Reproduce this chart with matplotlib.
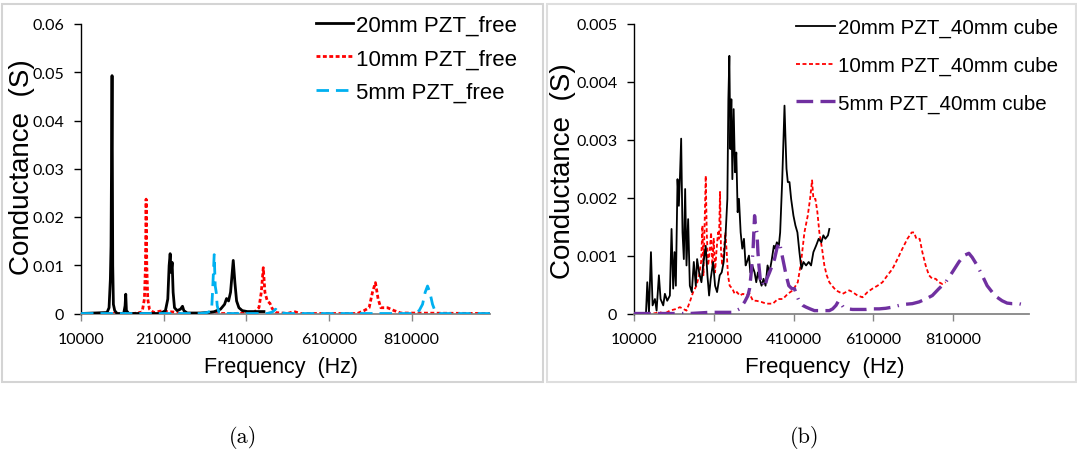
import matplotlib
matplotlib.use('Agg')
import matplotlib.pyplot as plt
from matplotlib.patches import Rectangle

# ---- (a) free PZT patches: frequency (Hz) / conductance (S)
f20_free = [10000, 73000, 77900, 81100, 82700, 85150, 86800, 88400, 91600, 97300,
            113400, 116700, 118300, 119900, 125600, 202300, 214400, 220100, 223300,
            225800, 228200, 230600, 233000, 236300, 242700, 250800, 255700, 258900,
            267000, 299300, 315500, 331600, 347800, 357500, 362300, 367200, 372000,
            378500, 382500, 386600, 392200, 400300, 412400, 452800]
g20_free = [0, 0.0002, 0.0012, 0.0071, 0.014, 0.0493, 0.0099, 0.0019, 0.0006, 0,
            0, 0.0016, 0.004, 0.0006, 0, 0, 0.0006, 0.003, 0.0099,
            0.0124, 0.0085, 0.0106, 0.0044, 0.0012, 0.0006, 0.0009, 0.0015, 0.0006,
            0.0001, 0.0001, 0.0002, 0.00035, 0.0009, 0.0019, 0.0031, 0.0026, 0.0044,
            0.011, 0.0064, 0.0026, 0.0012, 0.0006, 0.0004, 0.0004]

f10_free = [10000, 137700, 157900, 163500, 166000, 167600, 169200, 171600, 175700,
            186200, 202300, 234600, 250800, 380100, 428600, 440700, 446400, 451200,
            455200, 460900, 467400, 473000, 481100, 509400, 525600, 541700, 679100,
            695200, 707400, 715500, 722700, 729200, 735700, 751800, 768000, 784100,
            999900]
g10_free = [0, 0, 0.0003, 0.003, 0.0099, 0.0237, 0.0099, 0.003, 0.0009,
            0.0002, 0.0005, 0.0003, 0, 0, 0.0002, 0.0012, 0.0044, 0.0095,
            0.0044, 0.0026, 0.0021, 0.001, 0.0002, 0, 0.0004, 0, 0,
            0.0006, 0.0012, 0.0044, 0.0064, 0.003, 0.0012, 0.0012, 0.0006, 0.0001,
            0]

f5_free = [10000, 299300, 315500, 326000, 328400, 332400, 334900, 337300, 339700,
           343700, 364000, 461000, 473000, 481100, 489200, 509400, 816500, 828600,
           836700, 843100, 848800, 854400, 860900, 866600, 877100, 999900]
g5_free = [0, 0, 0.0002, 0.0006, 0.0044, 0.0122, 0.0057, 0.0044, 0.0016,
           0.0003, 0, 0, 0.0003, 0.0009, 0.0002, 0, 0, 0.0006,
           0.0019, 0.0044, 0.0057, 0.0044, 0.0019, 0.0006, 0, 0]

# ---- (b) PZT patches on 40 mm cube
f20_cube = [10000, 40000, 43300, 47500, 52500, 56600, 62500, 66600, 72400, 76600,
            83300, 87400, 93300, 99900, 104100, 108200, 111600, 114900, 119100,
            122400, 124900, 128200, 131600, 134900, 138200, 141600, 145700, 149900,
            154900, 159900, 164900, 168200, 173200, 179000, 183200, 189800, 194000,
            198200, 202300, 208200, 213200, 218200, 224800, 229800, 234800, 239800,
            244000, 246500, 249000, 251500, 254000, 256500, 259800, 263200, 266400,
            269800, 273100, 277300, 281400, 285600, 289800, 293100, 298100, 301400,
            306400, 312200, 316400, 320600, 324700, 329700, 334700, 339700, 344700,
            349700, 355500, 360500, 363800, 368000, 373000, 376300, 381300, 384700,
            387200, 389700, 392200, 395500, 399700, 403800, 409600, 414600, 419600,
            424600, 429600, 434600, 441300, 447900, 453800, 459600, 466300, 472900,
            479600, 484600, 489600, 496200, 499600]
g20_cube = [0, 0, 0.00054, 0.00002, 0.00106, 0.00014, 0.00025, 0.00005, 0.00066, 0.00025,
            0.00014, 0.00034, 0.00022, 0.00031, 0.00146, 0.00043, 0.00106, 0.00048, 0.00232,
            0.00186, 0.0023, 0.00302, 0.0014, 0.00094, 0.00215, 0.00083, 0.00163, 0.00048,
            0.00037, 0.00089, 0.00048, 0.00094, 0.00071, 0.00054, 0.00083, 0.00117, 0.00066,
            0.00031, 0.0006, 0.00089, 0.00048, 0.00037, 0.00066, 0.00071, 0.00089, 0.0014,
            0.00198, 0.0037, 0.00445, 0.00284, 0.0037, 0.00232, 0.00353, 0.00244, 0.00278,
            0.00175, 0.00198, 0.0014, 0.00112, 0.00129, 0.00083, 0.00089, 0.001, 0.00071,
            0.00083, 0.00071, 0.00054, 0.00071, 0.0006, 0.00048, 0.0006, 0.00048, 0.00083,
            0.00071, 0.00094, 0.00117, 0.00112, 0.00123, 0.00117, 0.0014, 0.00227, 0.00302,
            0.00359, 0.00302, 0.0025, 0.00227, 0.00227, 0.00198, 0.00169, 0.00152, 0.0014,
            0.00106, 0.00077, 0.00089, 0.00083, 0.00089, 0.00083, 0.00106, 0.00117, 0.00129,
            0.00123, 0.00135, 0.00129, 0.00135, 0.00146]

f10_cube = [10000, 25000, 58300, 74900, 87400, 99900, 116600, 124900, 141600, 149900,
            158200, 166500, 173200, 178200, 181500, 184000, 186500, 189800, 192300,
            195700, 199800, 203200, 206500, 209800, 213200, 216500, 220600, 223100,
            225600, 228100, 231500, 235600, 239000, 242300, 245600, 249800, 256500,
            262300, 268100, 274800, 283100, 291400, 299700, 308100, 316400, 328900,
            341400, 358000, 370500, 383000, 395500, 408000, 420500, 428800, 437100,
            445500, 451300, 456300, 459600, 464600, 469600, 474600, 481300, 487100,
            493000, 499600, 506200, 516200, 524600, 532900, 541200, 549500, 557900,
            570300, 582800, 595300, 607800, 620300, 632800, 645300, 657800, 670300,
            682700, 695200, 706000, 711900, 717700, 726000, 732700, 741000, 749300,
            757700, 766000, 774300, 782700, 791000]
g10_cube = [0, 0, 0, 0.00002, 0, 0.00005, 0.00008, 0.00011, 0.00005, 0.0002,
            0.00037, 0.00048, 0.00066, 0.00089, 0.00152, 0.00066, 0.0014, 0.00238, 0.0014,
            0.00083, 0.00106, 0.0014, 0.00083, 0.00129, 0.00071, 0.00106, 0.0014, 0.00129,
            0.0021, 0.00106, 0.00083, 0.00112, 0.0014, 0.00106, 0.00066, 0.00048, 0.00043,
            0.00034, 0.00037, 0.00031, 0.00034, 0.00031, 0.00034, 0.00022, 0.00022, 0.0002,
            0.00017, 0.00017, 0.00025, 0.00025, 0.00034, 0.0004, 0.00054, 0.00089, 0.0014,
            0.00169, 0.00198, 0.0023, 0.00198, 0.00198, 0.00175, 0.0014, 0.00112, 0.00083,
            0.00066, 0.00054, 0.00048, 0.0004, 0.00037, 0.00034, 0.00037, 0.0004, 0.00037,
            0.00031, 0.00028, 0.00037, 0.00043, 0.00048, 0.00054, 0.00066, 0.00077, 0.00094,
            0.00112, 0.00129, 0.0014, 0.0014, 0.00129, 0.00129, 0.00106, 0.00083, 0.00066,
            0.0006, 0.0006, 0.00054, 0.00051, 0.00054]

f5_cube = [10000, 149900, 174900, 199800, 258100, 274800, 287300, 295600, 299700,
           303900, 308100, 312200, 314700, 318100, 320600, 323100, 326400, 330600,
           334700, 338900, 343000, 349700, 356400, 362200, 368000, 373000, 376300,
           381300, 386300, 391300, 398000, 405500, 412100, 418000, 424600, 433000,
           441300, 451300, 462100, 474600, 487100, 499600, 507900, 516200, 522900,
           528700, 534500, 545400, 557900, 574500, 591200, 607800, 624500, 641100,
           657800, 674400, 691100, 707700, 724400, 741000, 757700, 774300, 791000,
           807600, 824300, 836800, 849300, 857600, 870100, 882600, 895100, 907600,
           920100, 932600, 945000, 957500, 974200, 986600]
g5_cube = [0, 0, 0.00001, 0.00002, 0.00002, 0.00008, 0.0002, 0.00031, 0.00043,
           0.00071, 0.00106, 0.00169, 0.00152, 0.0014, 0.00106, 0.00083, 0.0006, 0.00048,
           0.00054, 0.00048, 0.0006, 0.00071, 0.00083, 0.00094, 0.00112, 0.00123, 0.00117,
           0.001, 0.00083, 0.00066, 0.00048, 0.00043, 0.00043, 0.00031, 0.0002, 0.00014,
           0.00011, 0.00008, 0.00005, 0.00005, 0.00005, 0.00005, 0.00008, 0.00014, 0.00022,
           0.00017, 0.00011, 0.00008, 0.00007, 0.00007, 0.00007, 0.00008, 0.00008, 0.00009,
           0.00011, 0.00014, 0.00016, 0.00017, 0.0002, 0.00025, 0.00031, 0.00043, 0.00054,
           0.00071, 0.00089, 0.001, 0.00104, 0.00097, 0.00083, 0.00066, 0.00048, 0.00037,
           0.00028, 0.00022, 0.00018, 0.00017, 0.00017, 0.00015]

xticks = [10000, 210000, 410000, 610000, 810000]

W, H = 1077, 456
fig = plt.figure(figsize=(W / 100, H / 100), dpi=100)


def px_axes(x0, y0, x1, y1):
    return fig.add_axes([x0 / W, 1 - y1 / H, (x1 - x0) / W, (y1 - y0) / H])


def style_axes(ax, ymax, yticks):
    ax.set_xlim(10000, 1000000)
    ax.set_ylim(0, ymax)
    ax.set_xticks(xticks)
    ax.set_xticklabels([str(t) for t in xticks])
    ax.set_yticks(yticks)
    ax.set_yticklabels(['0' if t == 0 else ('%g' % t) for t in yticks])
    for s in ['top', 'right']:
        ax.spines[s].set_visible(False)
    ax.spines['left'].set_color('black')
    ax.spines['left'].set_linewidth(1.0)
    ax.spines['bottom'].set_color('#868686')
    ax.spines['bottom'].set_linewidth(1.3)
    ax.tick_params(axis='x', direction='out', length=5, width=1, color='#868686', pad=8)
    ax.tick_params(axis='y', direction='out', length=5, width=1, color='black', pad=7)
    for lab in ax.get_xticklabels() + ax.get_yticklabels():
        lab.set_fontfamily('Lato')
        lab.set_fontsize(11.5)


# frames around each sub-chart
fig.patches.append(Rectangle((2 / W, 1 - 383 / H), 541 / W, 378 / H, transform=fig.transFigure,
                             fill=False, edgecolor='#D4D4D4', lw=1.5))
fig.patches.append(Rectangle((547 / W, 1 - 383 / H), 529 / W, 378 / H, transform=fig.transFigure,
                             fill=False, edgecolor='#DEDEDE', lw=1.5))

# (a)
ax1 = px_axes(81, 25, 490, 314.5)
ax1.plot(f20_free, g20_free, color='black', lw=2.0, label='20mm PZT_free', zorder=3)
ax1.plot(f10_free, g10_free, color='red', lw=2.0, dashes=(1.4, 0.9), label='10mm PZT_free', zorder=2)
ax1.plot(f5_free, g5_free, color='#00B0F0', lw=2.0, dashes=(4.5, 2.5), label='5mm PZT_free', zorder=4)
style_axes(ax1, 0.06, [0, 0.01, 0.02, 0.03, 0.04, 0.05, 0.06])
fig.legend(*ax1.get_legend_handles_labels(), loc='upper left', bbox_to_anchor=(316 / W, 1 - 16 / H),
           frameon=False, prop={'family': 'Liberation Sans', 'size': 16}, handlelength=1.65,
           handletextpad=0.15, labelspacing=0.55, borderpad=0, borderaxespad=0)
fig.text(22 / W, 1 - 167 / H, 'Conductance  (S)', rotation=90, ha='center', va='center',
         family='Liberation Sans', fontsize=20)
fig.text(281 / W, 1 - 368 / H, 'Frequency  (Hz)', ha='center', va='center',
         family='Liberation Sans', fontsize=15.5)

# (b)
ax2 = px_axes(634, 25, 1029, 314.5)
ax2.plot(f20_cube, g20_cube, color='black', lw=1.3, label='20mm PZT_40mm cube', zorder=3)
ax2.plot(f10_cube, g10_cube, color='red', lw=1.3, dashes=(2.2, 1.4), label='10mm PZT_40mm cube', zorder=2)
ax2.plot(f5_cube, g5_cube, color='#7030A0', lw=2.4, dashes=(5, 2.2, 5, 2.2, 0.4, 2.2),
         label='5mm PZT_40mm cube', zorder=4)
style_axes(ax2, 0.005, [0, 0.001, 0.002, 0.003, 0.004, 0.005])
fig.legend(*ax2.get_legend_handles_labels(), loc='upper left', bbox_to_anchor=(796 / W, 1 - 19 / H),
           frameon=False, prop={'family': 'Liberation Sans', 'size': 14.8}, handlelength=1.9,
           handletextpad=0.15, labelspacing=0.9, borderpad=0, borderaxespad=0)
fig.text(563 / W, 1 - 171 / H, 'Conductance  (S)', rotation=90, ha='center', va='center',
         family='Liberation Sans', fontsize=20)
fig.text(825 / W, 1 - 368 / H, 'Frequency  (Hz)', ha='center', va='center',
         family='Liberation Sans', fontsize=16)

# captions
fig.text(243 / W, 1 - 438 / H, '(a)', ha='center', va='center', family='cmr10', fontsize=16)
fig.text(805 / W, 1 - 438 / H, '(b)', ha='center', va='center', family='cmr10', fontsize=16)

plt.savefig('out.png', dpi=100)
